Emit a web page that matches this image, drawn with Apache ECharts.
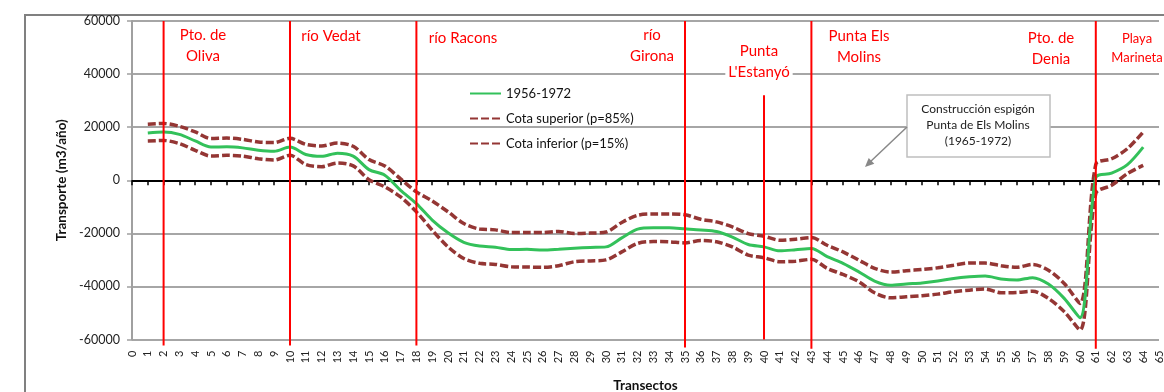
<!DOCTYPE html>
<html><head><meta charset="utf-8">
<script src="https://cdn.jsdelivr.net/npm/echarts@6/dist/echarts.min.js"></script>
<style>html,body{margin:0;padding:0;background:#fff}#c{width:1164px;height:392px}</style>
</head><body><div id="c"></div>
<script>
const transectos = ['0','1','2','3','4','5','6','7','8','9','10','11','12','13','14','15','16','17','18','19','20','21','22','23','24','25','26','27','28','29','30','31','32','33','34','35','36','37','38','39','40','41','42','43','44','45','46','47','48','49','50','51','52','53','54','55','56','57','58','59','60','61','62','63','64','65'];
const yTicks = [-60000, -40000, -20000, 0, 20000, 40000, 60000];
const media = [null,17800,18200,17300,14800,12500,12600,12200,11300,10900,12500,9700,9000,10200,9100,4000,1900,-3800,-8800,-15000,-19800,-23400,-24800,-25200,-26100,-26000,-26300,-26000,-25600,-25300,-25100,-21700,-18400,-17900,-17900,-18300,-18700,-19300,-21400,-24200,-25100,-26600,-26200,-25700,-28800,-31300,-34500,-38000,-39600,-39100,-38700,-38000,-37000,-36400,-36100,-37200,-37600,-36700,-39100,-44500,-51800,1000,2700,5900,12500,null];
const superior = [null,21100,21400,20300,18200,15700,15900,15400,14400,14200,15800,13500,12900,14000,12800,7800,5400,500,-4400,-7800,-11900,-16300,-18400,-18700,-19700,-19700,-19700,-19300,-20100,-19900,-19500,-15900,-13200,-12700,-12700,-13000,-14700,-15700,-17600,-20100,-21100,-22600,-22200,-21600,-24500,-27000,-30100,-33200,-34600,-34100,-33600,-33000,-32000,-31200,-31200,-32200,-32800,-31700,-33900,-38900,-46400,6000,8100,11900,18200,null];
const inferior = [null,14800,15000,13800,11300,9100,9400,9100,8100,7600,9400,5900,5100,6500,5400,200,-2500,-6300,-11900,-18800,-25100,-29500,-31300,-31700,-32600,-32700,-32800,-32200,-30700,-30400,-30000,-27000,-23800,-23100,-23200,-23600,-22700,-23200,-25100,-28200,-29200,-30700,-30500,-29800,-33200,-35500,-38200,-42400,-44300,-43900,-43500,-42900,-42000,-41400,-41000,-42400,-42300,-41800,-44500,-49500,-56400,-5000,-1900,2500,5600,null];
const seriesNames = ['1956-1972', 'Cota superior (p=85%)', 'Cota inferior (p=15%)'];
const hitos = ['2','10','18','35','40','43','61'];
const hitoTop = [60000,60000,60000,60000,32000,60000,60000];
const hitoBottom = [-62300,-62300,-62300,-63000,-60000,-63500,-63500];
const rotulos = [
  {t:'Pto. de\nOliva', x:203, y:46},
  {t:'río Vedat', x:331, y:36},
  {t:'río Racons', x:463, y:38},
  {t:'río\nGirona', x:652, y:46},
  {t:'Punta\nL\'Estanyó', x:759, y:62, bg:true},
  {t:'Punta Els\nMolins', x:859, y:47},
  {t:'Pto. de\nDenia', x:1051, y:49}
];

const FONT = 'Lato';
const chart = echarts.init(document.getElementById('c'), null, {renderer:'canvas'});

const graphics = [
  {type:'rect', shape:{x:25,y:15,width:1200,height:400}, style:{fill:'none', stroke:'#808080', lineWidth:2}, z:0},
];
rotulos.forEach(r=>{
  graphics.push({type:'text', x:r.x, y:r.y, z:20, style:{text:r.t, fill:'#ff0000', font:'15px '+FONT, textAlign:'center', textVerticalAlign:'middle', lineHeight:21,
    backgroundColor: r.bg ? '#fff' : null, padding: r.bg ? [0,3] : 0}});
});
graphics.push({type:'text', x:1137, y:48, z:20, style:{text:'Playa\nMarineta', fill:'#ff0000', font:'13px '+FONT, textAlign:'center', textVerticalAlign:'middle', lineHeight:19}});
graphics.push({type:'rect', shape:{x:907,y:95,width:143,height:62}, style:{fill:'#fff', stroke:'#bfbfbf', lineWidth:1.5}, z:20});
graphics.push({type:'text', x:978, y:125, z:21, style:{text:'Construcción espigón\nPunta de Els Molins\n(1965-1972)', fill:'#222', font:'12px '+FONT, textAlign:'center', textVerticalAlign:'middle', lineHeight:16}});
graphics.push({type:'line', shape:{x1:907,y1:127,x2:869,y2:163}, style:{stroke:'#888', lineWidth:1.5}, z:20});
graphics.push({type:'polygon', shape:{points:[[865,167],[874.3,163.7],[868.7,157.9]]}, style:{fill:'#888'}, z:20});

const option = {
  animation:false,
  textStyle:{fontFamily:FONT},
  grid:{left:132, top:21, width:1027, height:318.5, containLabel:false, outerBoundsMode:'none'},
  legend:{
    data:seriesNames, orient:'vertical', left:464, top:82, itemGap:12, itemWidth:31, itemHeight:14,
    itemStyle:{opacity:0},
    textStyle:{fontFamily:FONT, fontSize:13, color:'#111'}
  },
  xAxis:[
    {type:'category', data:transectos, boundaryGap:false, position:'bottom',
     axisLine:{onZero:true, lineStyle:{color:'#000', width:2}},
     axisTick:{show:true, interval:0, length:5, lineStyle:{color:'#000', width:1.5}},
     axisLabel:{show:false}, splitLine:{show:false}},
    {type:'category', data:transectos, boundaryGap:false, position:'bottom',
     axisLine:{show:false, onZero:false}, axisTick:{show:false},
     axisLabel:{show:true, interval:0, rotate:90, fontSize:11, color:'#222', margin:11, fontFamily:FONT},
     name:'Transectos', nameLocation:'middle', nameGap:39,
     nameTextStyle:{fontFamily:FONT, fontSize:13.5, fontWeight:'bold', color:'#111'}}
  ],
  yAxis:{
    type:'value', min:-60000, max:60000, interval:20000,
    axisLine:{show:true, lineStyle:{color:'#a0a0a0', width:2}},
    axisTick:{show:true, length:5, lineStyle:{color:'#a0a0a0', width:1.5}},
    axisLabel:{fontSize:12.5, color:'#222', margin:12, fontFamily:FONT, formatter:(v)=>String(v)},
    splitLine:{show:true, lineStyle:{color:'#a6a6a6', width:2}},
    name:'Transporte (m3/año)', nameLocation:'middle', nameGap:60, nameRotate:90,
    nameTextStyle:{fontFamily:FONT, fontSize:13.5, fontWeight:'bold', color:'#111'}
  },
  series:[
    {name:seriesNames[1], type:'line', data:superior, smooth:0.3, symbol:'none',
     lineStyle:{color:'#943634', width:3.5, type:[8,3]}, itemStyle:{color:'#943634'}, z:3},
    {name:seriesNames[2], type:'line', data:inferior, smooth:0.3, symbol:'none',
     lineStyle:{color:'#943634', width:3.5, type:[8,3]}, itemStyle:{color:'#943634'}, z:3},
    {name:seriesNames[0], type:'line', data:media, smooth:0.3, symbol:'none',
     lineStyle:{color:'#33c15a', width:3}, itemStyle:{color:'#33c15a'}, z:4}
  ],
  graphic:graphics
};
chart.setOption(option);

// red reference lines placed through the chart's own scales
hitos.forEach((h,i)=>{
  const p1 = chart.convertToPixel({xAxisIndex:0, yAxisIndex:0}, [h, hitoTop[i]]);
  const p2 = chart.convertToPixel({xAxisIndex:0, yAxisIndex:0}, [h, hitoBottom[i]]);
  graphics.push({type:'line', shape:{x1:p1[0], y1:p1[1], x2:p2[0], y2:p2[1]}, style:{stroke:'#ff0000', lineWidth:2}, z:10});
});
chart.setOption({graphic:graphics});
</script>
</body></html>
